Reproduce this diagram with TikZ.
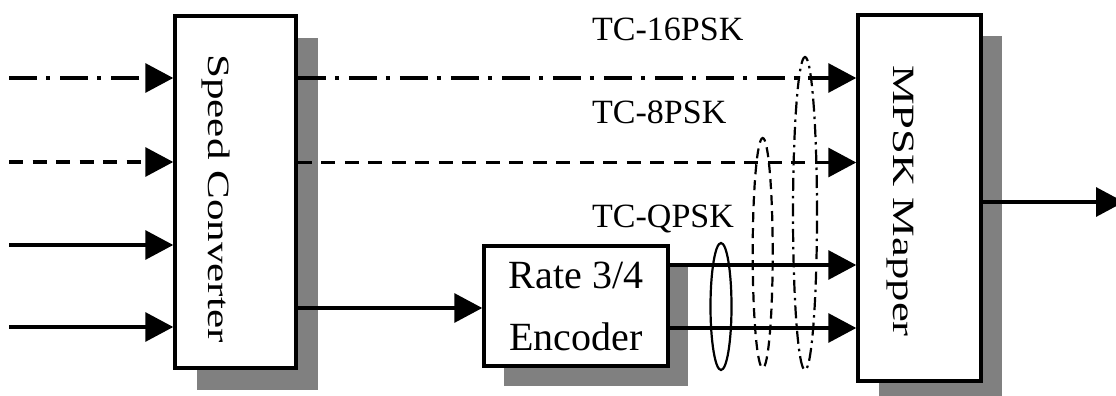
\documentclass[tikz,border=0pt]{standalone}
\usepackage{fontspec}
\setmainfont{Liberation Serif}
\usetikzlibrary{arrows.meta,shadows}

\begin{document}
\begin{tikzpicture}[x=1pt,y=-1pt,
  block/.style={draw, line width=3.5pt, fill=white, rectangle, inner sep=0pt},
  shade22/.style={drop shadow={shadow xshift=22pt, shadow yshift=-22pt, fill=black!50, opacity=1}},
  shade20/.style={drop shadow={shadow xshift=20pt, shadow yshift=-20pt, fill=black!50, opacity=1}},
  shade21/.style={drop shadow={shadow xshift=21pt, shadow yshift=-21pt, fill=black!50, opacity=1}},
  vlabel/.style={rotate=-90, anchor=base, inner sep=0pt, font=\fontsize{31}{36}\selectfont},
  hlabel/.style={anchor=base west, inner sep=0pt, font=\fontsize{34}{40}\selectfont},
  flow/.style={line width=3.3pt, -{Triangle[length=28pt,width=29pt]}},
  dashdotline/.style={dash pattern=on 28pt off 9pt on 4pt off 10pt},
  dashline/.style={dash pattern=on 14pt off 9.5pt},
  group/.style={line width=2.2pt}
]
\useasboundingbox (0,0) rectangle (1116,396);
\clip (0,0) rectangle (1116,396);

% blocks
\node[block, shade22, minimum width=121pt, minimum height=352pt] (SC) at (235.5,192) {};
\node[block, shade20, minimum width=184pt, minimum height=120pt, align=center,
      font=\fontsize{40}{62}\selectfont] (ENC) at (576,306) {Rate 3/4\\Encoder};
\node[block, shade21, minimum width=123pt, minimum height=366pt] (MP) at (919.5,198) {};

% rotated block titles
\node[vlabel] (SCtext) at (208,198.5) {\scalebox{1.39}[1]{Speed Converter}};
\node[vlabel] (MPtext) at (893,201) {\scalebox{1.44}[1]{MPSK Mapper}};

% mode labels
\node[hlabel] (L16) at (592,41) {TC-16PSK};
\node[hlabel] (L8) at (592,123) {TC-8PSK};
\node[hlabel] (L4) at (592,227) {TC-QPSK};

% signal rows
\coordinate (in1) at (9,78);
\coordinate (in2) at (9,162);
\coordinate (in3) at (9,245);
\coordinate (in4) at (9,327);
\coordinate (r1) at (0,78);
\coordinate (r2) at (0,162.5);
\coordinate (r3) at (0,265);
\coordinate (r4) at (0,328);
\coordinate (rm) at (0,308);
\coordinate (outend) at (1124,202);

% inputs to the speed converter
\draw[flow, dashdotline] (in1) -- (in1 -| SC.west);
\draw[flow, dashline] (in2) -- (in2 -| SC.west);
\draw[flow] (in3) -- (in3 -| SC.west);
\draw[flow] (in4) -- (in4 -| SC.west);

% speed converter outputs
\draw[flow, dashdotline] (SC.east |- r1) -- (MP.west |- r1);
\draw[flow, dashline] (SC.east |- r2) -- (MP.west |- r2);
\draw[flow] (SC.east |- rm) -- (ENC.west |- rm);

% encoder outputs
\draw[flow] (ENC.east |- r3) -- (MP.west |- r3);
\draw[flow] (ENC.east |- r4) -- (MP.west |- r4);

% mapper output
\draw[flow] (MP.east |- outend) -- (outend);

% groupings of the lines used by each mode
\draw[group] (721,306.5) ellipse [x radius=10.5pt, y radius=63.5pt];
\draw[group, dash pattern=on 10pt off 6pt] (762.7,253) ellipse [x radius=10pt, y radius=115pt];
\draw[group, dash pattern=on 13pt off 5pt on 2.5pt off 5pt] (805,213.5) ellipse [x radius=12pt, y radius=156.5pt];
\end{tikzpicture}
\end{document}
